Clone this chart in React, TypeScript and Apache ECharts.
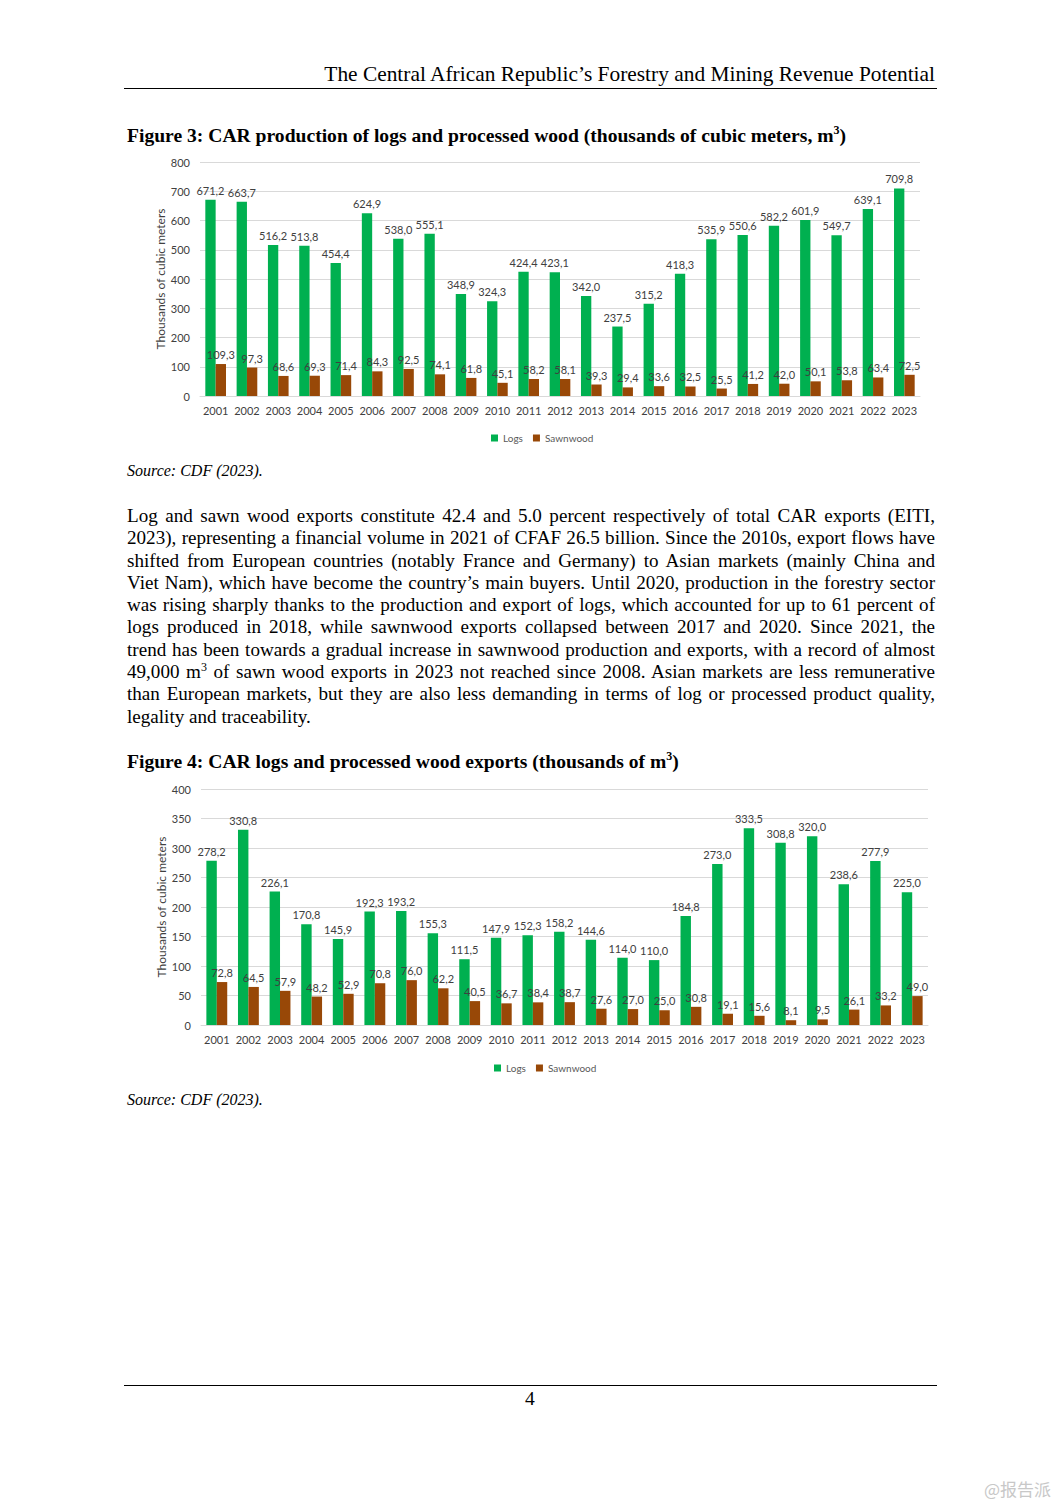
import React, { useEffect, useRef } from "react";
import * as echarts from "echarts";

const years = ["2001","2002","2003","2004","2005","2006","2007","2008","2009","2010","2011","2012","2013","2014","2015","2016","2017","2018","2019","2020","2021","2022","2023"];

const prodLogs = [671.2,663.7,516.2,513.8,454.4,624.9,538.0,555.1,348.9,324.3,424.4,423.1,342.0,237.5,315.2,418.3,535.9,550.6,582.2,601.9,549.7,639.1,709.8];
const prodSawn = [109.3,97.3,68.6,69.3,71.4,84.3,92.5,74.1,61.8,45.1,58.2,58.1,39.3,29.4,33.6,32.5,25.5,41.2,42.0,50.1,53.8,63.4,72.5];

const expLogs = [278.2,330.8,226.1,170.8,145.9,192.3,193.2,155.3,111.5,147.9,152.3,158.2,144.6,114.0,110.0,184.8,273.0,333.5,308.8,320.0,238.6,277.9,225.0];
const expSawn = [72.8,64.5,57.9,48.2,52.9,70.8,76.0,62.2,40.5,36.7,38.4,38.7,27.6,27.0,25.0,30.8,19.1,15.6,8.1,9.5,26.1,33.2,49.0];

const seriesNames = ["Logs", "Sawnwood"];
const yAxisTitle = "Thousands of cubic meters";

const paragraphLines = [
  "Log and sawn wood exports constitute 42.4 and 5.0 percent respectively of total CAR exports (EITI,",
  "2023), representing a financial volume in 2021 of CFAF 26.5 billion. Since the 2010s, export flows have",
  "shifted from European countries (notably France and Germany) to Asian markets (mainly China and",
  "Viet Nam), which have become the country\u2019s main buyers. Until 2020, production in the forestry sector",
  "was rising sharply thanks to the production and export of logs, which accounted for up to 61 percent of",
  "logs produced in 2018, while sawnwood exports collapsed between 2017 and 2020. Since 2021, the",
  "trend has been towards a gradual increase in sawnwood production and exports, with a record of almost",
  "__M3__ of sawn wood exports in 2023 not reached since 2008. Asian markets are less remunerative",
  "than European markets, but they are also less demanding in terms of log or processed product quality,",
  "legality and traceability.",
];

const GREEN = "#00B050";
const BROWN = "#984807";
const FONT = "Lato, 'Noto Sans', sans-serif";

const fmt = (v: number) => v.toFixed(1).replace(".", ",");

function makeOption(logs: number[], sawn: number[], yMax: number, interval: number, grid: any, legendPos: any) {
  const label = {
    show: true,
    position: "top",
    distance: 4,
    fontSize: 11,
    color: "#404040",
    fontFamily: FONT,
    formatter: (p: any) => fmt(p.value),
  };
  return {
    animation: false,
    textStyle: { fontFamily: FONT },
    grid,
    legend: {
      ...legendPos,
      data: seriesNames,
      icon: "rect",
      itemWidth: 7,
      itemHeight: 7,
      itemGap: 10,
      textStyle: { fontSize: 10, color: "#595959", fontFamily: FONT },
    },
    xAxis: {
      type: "category",
      data: years,
      axisLine: { lineStyle: { color: "#D9D9D9" } },
      axisTick: { show: false },
      axisLabel: { fontSize: 11, color: "#404040", margin: 9, interval: 0, fontFamily: FONT },
    },
    yAxis: {
      type: "value",
      min: 0,
      max: yMax,
      interval,
      name: yAxisTitle,
      nameLocation: "middle",
      nameRotate: 90,
      nameGap: 34,
      nameMoveOverlap: false,
      nameTextStyle: { fontSize: 12, color: "#404040", fontFamily: FONT },
      axisLine: { show: false },
      axisTick: { show: false },
      axisLabel: { fontSize: 11, color: "#404040", margin: 10, fontFamily: FONT },
      splitLine: { lineStyle: { color: "#D9D9D9" } },
    },
    series: [
      { name: seriesNames[0], type: "bar", data: logs, barWidth: "33%", barGap: "0%", itemStyle: { color: GREEN }, label },
      { name: seriesNames[1], type: "bar", data: sawn, barWidth: "33%", barGap: "0%", itemStyle: { color: BROWN }, label },
    ],
  };
}

function Chart({ option, style }: { option: any; style: React.CSSProperties }) {
  const ref = useRef<HTMLDivElement>(null);
  useEffect(() => {
    const c = echarts.init(ref.current!, undefined, { renderer: "svg" });
    c.setOption(option);
    return () => c.dispose();
  }, []);
  return <div ref={ref} style={{ position: "absolute", ...style }} />;
}

const serif = "'Liberation Serif', 'Times New Roman', serif";

export default function App() {
  const opt1 = makeOption(prodLogs, prodSawn, 800, 100, { left: 60, top: 12, width: 720, height: 234 }, { left: 346, top: 278 });
  const opt2 = makeOption(expLogs, expSawn, 400, 50, { left: 61, top: 9, width: 727, height: 236 }, { left: 349, top: 278 });
  return (
    <div style={{ position: "absolute", left: 0, top: 0, width: 1061, height: 1500, background: "#fff", fontFamily: serif, color: "#000", overflow: "hidden" }}>
      <div style={{ position: "absolute", right: 1061 - 935, top: 62, fontSize: 21.4, whiteSpace: "nowrap" }}>
        The Central African Republic’s Forestry and Mining Revenue Potential
      </div>
      <div style={{ position: "absolute", left: 124, top: 88, width: 813, height: 1, background: "#000" }} />

      <div style={{ position: "absolute", left: 127, top: 125, fontSize: 19.6, fontWeight: "bold", whiteSpace: "nowrap" }}>
        Figure 3: CAR production of logs and processed wood (thousands of cubic meters, m<sup style={{ fontSize: 12, lineHeight: 0 }}>3</sup>)
      </div>
      <Chart option={opt1} style={{ left: 140, top: 150, width: 800, height: 300 }} />
      <div style={{ position: "absolute", left: 127, top: 462, fontSize: 16, fontStyle: "italic", whiteSpace: "nowrap" }}>
        Source: CDF (2023).
      </div>

      <div style={{ position: "absolute", left: 127, top: 505, width: 808, fontSize: 19.1, lineHeight: "22.3px" }}>
        {paragraphLines.map((l, i) => (
          <div key={i} style={{ whiteSpace: "nowrap", textAlign: "justify", textAlignLast: i === paragraphLines.length - 1 ? "left" : "justify" }}>
            {l.includes("__M3__") ? (
              <>
                49,000 m<sup style={{ fontSize: 12, lineHeight: 0 }}>3</sup>{l.replace("__M3__", "")}
              </>
            ) : (
              l
            )}
          </div>
        ))}
      </div>

      <div style={{ position: "absolute", left: 127, top: 751, fontSize: 19.6, fontWeight: "bold", whiteSpace: "nowrap" }}>
        Figure 4: CAR logs and processed wood exports (thousands of m<sup style={{ fontSize: 12, lineHeight: 0 }}>3</sup>)
      </div>
      <Chart option={opt2} style={{ left: 140, top: 780, width: 800, height: 300 }} />
      <div style={{ position: "absolute", left: 127, top: 1091, fontSize: 16, fontStyle: "italic", whiteSpace: "nowrap" }}>
        Source: CDF (2023).
      </div>

      <div style={{ position: "absolute", left: 124, top: 1385, width: 813, height: 1, background: "#000" }} />
      <div style={{ position: "absolute", left: 525, top: 1388, fontSize: 19.6 }}>4</div>
      <div style={{ position: "absolute", left: 984, top: 1476, fontSize: 17, color: "#c8c8c8", fontFamily: "'Noto Sans CJK SC', sans-serif", whiteSpace: "nowrap" }}>
        @报告派
      </div>
    </div>
  );
}
